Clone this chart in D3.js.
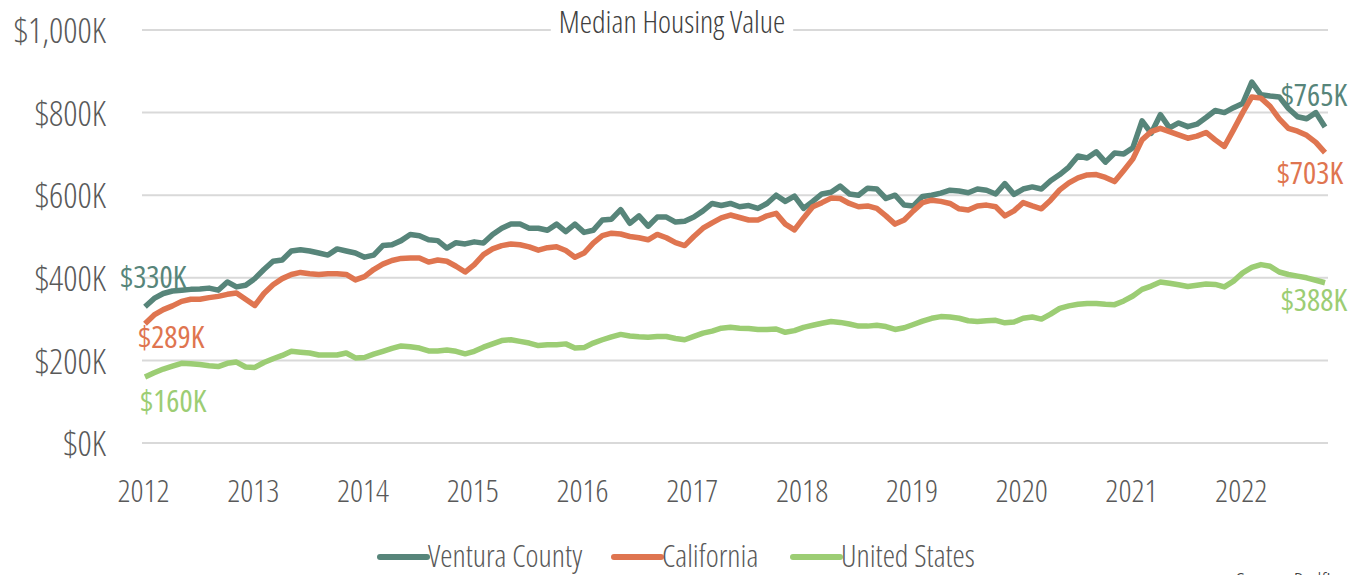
<!DOCTYPE html>
<html>
<head>
<meta charset="utf-8">
<script src="https://cdn.jsdelivr.net/npm/d3@7"></script>
<style>
  body { margin: 0; background: #fff; }
  svg text { font-family: "Open Sans", sans-serif; font-stretch: condensed; font-weight: 300; }
</style>
</head>
<body>
<svg id="chart" width="1364" height="575"></svg>
<script>
// monthly medians, Jan 2012 .. Oct 2022 (in $K)
var years = ["2012","2013","2014","2015","2016","2017","2018","2019","2020","2021","2022"];
var yTicks = [0, 200, 400, 600, 800, 1000];

var ventura = [
  330,350,362,368,370,372,373,375,370,390,378,382,
  398,420,440,443,465,468,465,460,455,470,465,460,
  450,455,478,480,490,505,502,492,490,472,485,482,
  487,484,505,520,530,530,520,520,515,530,512,530,
  510,515,540,542,565,532,550,525,547,547,535,537,
  547,562,580,575,580,572,575,568,580,600,585,598,
  568,585,603,607,622,603,600,617,615,592,600,576,
  574,597,600,605,612,610,606,615,612,603,628,602,
  615,620,615,635,650,668,695,690,705,680,702,700,
  715,780,750,795,763,775,766,772,788,805,800,812,
  822,874,843,840,838,810,790,785,800,765
];
var california = [
  289,310,323,332,343,348,348,352,355,360,363,348,
  333,362,383,398,408,413,410,408,410,410,408,395,
  403,420,433,442,447,448,448,438,443,440,428,414,
  432,456,470,478,482,480,475,467,473,475,466,450,
  460,484,502,508,506,500,497,492,505,497,485,478,
  500,520,533,545,552,546,540,540,550,556,530,516,
  545,572,582,593,592,580,572,574,568,550,530,540,
  562,582,588,585,580,567,564,574,576,572,550,562,
  582,574,567,588,613,630,642,649,650,643,633,660,
  688,734,754,762,754,746,738,743,752,734,718,758,
  800,838,835,815,785,762,755,745,728,703
];
var unitedStates = [
  160,170,179,186,193,192,190,187,185,193,196,184,
  183,195,204,212,222,220,218,213,213,213,218,206,
  207,215,222,229,235,233,230,223,223,225,222,216,
  222,232,240,248,250,246,242,236,238,238,240,230,
  231,242,250,257,263,259,257,256,258,258,253,250,
  258,266,271,278,280,278,277,275,275,276,268,272,
  280,285,290,294,292,288,283,283,285,282,275,279,
  287,295,302,306,305,302,296,294,296,297,291,293,
  302,305,300,312,326,332,336,338,338,336,335,344,
  356,372,380,390,387,383,379,382,385,384,378,392,
  412,425,432,428,414,408,404,400,394,388
];

var series = [
  {name: "Ventura County", values: ventura, color: "#57857a"},
  {name: "California", values: california, color: "#df7550"},
  {name: "United States", values: unitedStates, color: "#9ccd74"}
];

var svg = d3.select("#chart");
var WIDTH = 1364, HEIGHT = 575;
var MARGINS = {top: 30, right: 36, bottom: 132, left: 142};

var xScale = d3.scaleLinear()
  .domain([0, ventura.length - 1])
  .range([145, 1325]);

var yScale = d3.scaleLinear()
  .domain([0, 1000])
  .range([HEIGHT - MARGINS.bottom, MARGINS.top]);

// gridlines
svg.append("g")
  .selectAll("line")
  .data(yTicks)
  .enter().append("line")
  .attr("x1", MARGINS.left)
  .attr("x2", WIDTH - MARGINS.right)
  .attr("y1", function (d) { return yScale(d); })
  .attr("y2", function (d) { return yScale(d); })
  .attr("stroke", "#d9d9d9")
  .attr("stroke-width", 2);

// y axis labels
var yAxis = d3.axisLeft(yScale)
  .tickValues(yTicks)
  .tickSize(0)
  .tickPadding(0)
  .tickFormat(function (d) { return "$" + d3.format(",")(d) + "K"; });

var gy = svg.append("g")
  .attr("transform", "translate(106,0)")
  .call(yAxis);
gy.select(".domain").remove();
gy.selectAll("text")
  .attr("dy", "0.36em")
  .style("font-size", "35px")
  .attr("fill", "#595959")
  .attr("font-family", null);

// x axis labels (one per January)
var xAxis = d3.axisBottom(xScale)
  .tickValues(years.map(function (d, i) { return i * 12; }))
  .tickSize(0)
  .tickPadding(0)
  .tickFormat(function (d) { return years[d / 12]; });

var gx = svg.append("g")
  .attr("transform", "translate(-2,479)")
  .call(xAxis);
gx.select(".domain").remove();
gx.selectAll("text")
  .attr("dy", "0.71em")
  .style("font-size", "32px")
  .attr("fill", "#595959")
  .attr("font-family", null);

// title sitting on the top gridline
var titleBg = svg.append("rect").attr("fill", "#fff");
var title = svg.append("text")
  .attr("x", 672)
  .attr("y", 33)
  .attr("text-anchor", "middle")
  .style("font-size", "31px")
  .attr("fill", "#404040")
  .text("Median Housing Value");
var tb = title.node().getBBox();
titleBg
  .attr("x", tb.x - 8)
  .attr("y", tb.y)
  .attr("width", tb.width + 16)
  .attr("height", tb.height);

var lineGen = d3.line()
  .x(function (d, i) { return xScale(i); })
  .y(function (d) { return yScale(d); });

series.forEach(function (s) {
  svg.append("path")
    .attr("d", lineGen(s.values))
    .attr("fill", "none")
    .attr("stroke", s.color)
    .attr("stroke-width", 5.5)
    .attr("stroke-linejoin", "round");
});

// start / end value labels
var startLabels = [
  {s: 0, x: 120, y: 288},
  {s: 1, x: 138, y: 348},
  {s: 2, x: 140, y: 412}
];
var endLabels = [
  {s: 0, x: 1347, y: 106},
  {s: 1, x: 1343, y: 184},
  {s: 2, x: 1347, y: 311}
];
startLabels.forEach(function (l) {
  var s = series[l.s];
  svg.append("text")
    .attr("x", l.x).attr("y", l.y)
    .style("font-size", "31px")
    .style("font-weight", 400)
    .attr("fill", s.color)
    .text("$" + s.values[0] + "K");
});
endLabels.forEach(function (l) {
  var s = series[l.s];
  svg.append("text")
    .attr("x", l.x).attr("y", l.y)
    .attr("text-anchor", "end")
    .style("font-size", "31px")
    .style("font-weight", 400)
    .attr("fill", s.color)
    .text("$" + s.values[s.values.length - 1] + "K");
});

// legend
var legendX = [380, 614, 793];
var legend = svg.append("g");
series.forEach(function (s, i) {
  legend.append("line")
    .attr("x1", legendX[i]).attr("x2", legendX[i] + 47)
    .attr("y1", 557).attr("y2", 557)
    .attr("stroke", s.color)
    .attr("stroke-width", 6)
    .attr("stroke-linecap", "round");
  legend.append("text")
    .attr("x", legendX[i] + 48)
    .attr("y", 567)
    .style("font-size", "31px")
    .attr("fill", "#595959")
    .text(s.name);
});

svg.append("text")
  .attr("x", 1236)
  .attr("y", 589)
  .style("font-size", "22px")
  .attr("fill", "#404040")
  .text("Source: Redfin");
</script>
</body>
</html>
